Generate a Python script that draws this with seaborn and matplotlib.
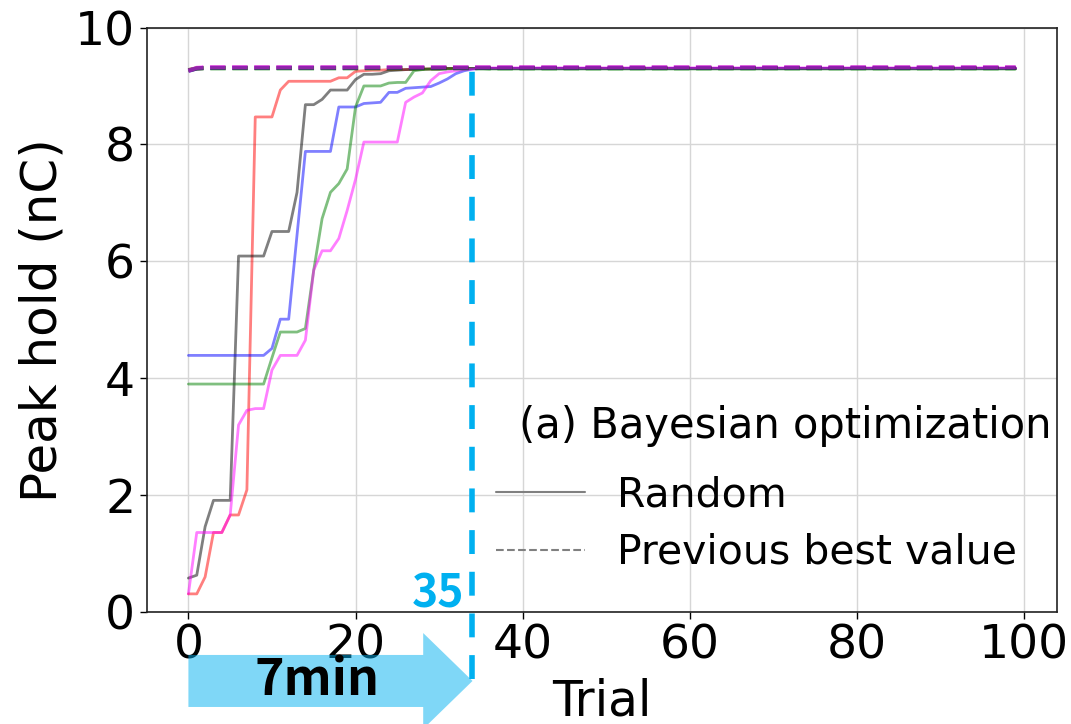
import numpy as np
import pandas as pd
import seaborn as sns
import matplotlib
matplotlib.use("Agg")
import matplotlib.pyplot as plt
from matplotlib.patches import FancyArrow
from matplotlib.lines import Line2D

# ---- data -------------------------------------------------------------
trials = list(range(100))
x_ticks = [0, 20, 40, 60, 80, 100]
y_ticks = [0, 2, 4, 6, 8, 10]

# best-so-far peak hold for five random-start runs (first 36 trials, then flat)
run_red = [0.31, 0.31, 0.60, 1.36, 1.36, 1.66, 1.66, 2.09, 8.47, 8.47,
           8.47, 8.93, 9.08, 9.08, 9.08, 9.08, 9.08, 9.08, 9.14, 9.14,
           9.25, 9.26, 9.27, 9.27, 9.28, 9.28, 9.28, 9.29, 9.29, 9.29,
           9.29, 9.30, 9.30, 9.30, 9.30, 9.30] + [9.30] * 64
run_black = [0.58, 0.63, 1.46, 1.91, 1.91, 1.91, 6.09, 6.09, 6.09, 6.09,
             6.51, 6.51, 6.51, 7.18, 8.68, 8.68, 8.77, 8.93, 8.93, 8.93,
             9.11, 9.20, 9.20, 9.21, 9.26, 9.27, 9.28, 9.28, 9.29, 9.29,
             9.29, 9.30, 9.30, 9.30, 9.30, 9.30] + [9.30] * 64
run_blue = [4.39, 4.39, 4.39, 4.39, 4.39, 4.39, 4.39, 4.39, 4.39, 4.39,
            4.51, 5.01, 5.01, 6.45, 7.88, 7.88, 7.88, 7.88, 8.64, 8.64,
            8.64, 8.70, 8.71, 8.72, 8.89, 8.89, 8.96, 8.97, 8.98, 8.99,
            9.05, 9.12, 9.21, 9.26, 9.29, 9.30] + [9.30] * 64
run_green = [3.90, 3.90, 3.90, 3.90, 3.90, 3.90, 3.90, 3.90, 3.90, 3.90,
             4.35, 4.79, 4.79, 4.79, 4.85, 5.85, 6.73, 7.18, 7.33, 7.58,
             8.64, 9.00, 9.00, 9.00, 9.05, 9.06, 9.06, 9.26, 9.28, 9.29,
             9.29, 9.29, 9.30, 9.30, 9.30, 9.30] + [9.29] * 64
run_magenta = [0.31, 1.36, 1.36, 1.36, 1.36, 1.66, 3.20, 3.45, 3.48, 3.48,
               4.14, 4.39, 4.39, 4.39, 4.65, 5.85, 6.18, 6.18, 6.39, 6.87,
               7.40, 8.04, 8.04, 8.04, 8.04, 8.04, 8.72, 8.81, 8.88, 9.09,
               9.21, 9.24, 9.26, 9.28, 9.29, 9.30] + [9.31] * 64

# previous best value for each run
best_red = [9.27, 9.30, 9.31] + [9.31] * 97
best_black = [9.26, 9.30, 9.31] + [9.31] * 97
best_blue = [9.26, 9.30, 9.31] + [9.31] * 97
best_green = [9.27, 9.30, 9.30] + [9.30] * 97
best_magenta = [9.26, 9.31, 9.32] + [9.32] * 97

run_names = ["r1", "r2", "r3", "r4", "r5"]
run_colors = ["red", "black", "blue", "green", "magenta"]

# ---- long-form tables ---------------------------------------------------
solid_runs = [run_red, run_black, run_blue, run_green, run_magenta]
best_runs = [best_red, best_black, best_blue, best_green, best_magenta]

df_solid = pd.concat(
    [pd.DataFrame({"trial": trials, "peak": v, "run": n})
     for n, v in zip(run_names, solid_runs)], ignore_index=True)
df_best = pd.concat(
    [pd.DataFrame({"trial": trials, "peak": v, "run": n})
     for n, v in zip(run_names, best_runs)], ignore_index=True)
palette = dict(zip(run_names, run_colors))

# ---- figure -------------------------------------------------------------
sns.set_theme(style="ticks")
plt.rcParams["font.family"] = ["DejaVu Sans"]
plt.rcParams.update({"text.color": "black", "axes.labelcolor": "black",
                     "xtick.color": "black", "ytick.color": "black"})

fig, ax = plt.subplots(figsize=(10.71, 7.24), dpi=100)
fig.subplots_adjust(left=0.1373, right=0.9869, bottom=0.1547, top=0.962)

ax.grid(True, color="#d6d6d6", linewidth=1.0, zorder=0)
ax.set_axisbelow(True)

sns.lineplot(data=df_solid, x="trial", y="peak", hue="run", palette=palette,
             hue_order=run_names, estimator=None, alpha=0.5, linewidth=2,
             legend=False, ax=ax)
sns.lineplot(data=df_best, x="trial", y="peak", hue="run", palette=palette,
             hue_order=run_names, estimator=None, alpha=0.5, linewidth=3,
             linestyle="--", legend=False, ax=ax)

# marker for the trial where all runs converge
ax.plot([34, 34], [-1.15, 9.30], color="#00b0f0", linewidth=4,
        dashes=(4.3, 3.2), clip_on=False, zorder=5)
ax.text(33.0, 0.07, "35", color="#00b0f0", fontsize=32, fontweight="bold",
        family=["Noto Sans CJK JP", "DejaVu Sans"], ha="right",
        va="baseline", zorder=6)

arrow = FancyArrow(0, -1.18, 34, 0, width=0.89, head_width=1.64,
                   head_length=5.9, length_includes_head=True,
                   color="#00b0f0", alpha=0.5, linewidth=0,
                   clip_on=False, zorder=6)
ax.add_patch(arrow)
ax.text(15.4, -1.18, "7min", color="black", fontsize=36, fontweight="bold",
        family=["Noto Sans CJK JP", "DejaVu Sans"], ha="center",
        va="center", zorder=7, clip_on=False)

ax.set_xlim(-4.95, 103.95)
ax.set_ylim(0, 10)
ax.set_xticks(x_ticks)
ax.set_yticks(y_ticks)
ax.tick_params(labelsize=34, length=5, width=1, color="black")
for s in ax.spines.values():
    s.set_color("#222222")
    s.set_linewidth(1.2)

ax.set_xlabel("Trial", fontsize=35, labelpad=6)
ax.set_ylabel("Peak hold (nC)", fontsize=36, labelpad=6)

# legend heading and entries
ax.text(71.4, 3.18, "(a) Bayesian optimization", fontsize=30,
        ha="center", va="center")
handles = [Line2D([], [], color="gray", linewidth=1.5),
           Line2D([], [], color="gray", linewidth=1.5, linestyle="--")]
ax.legend(handles, ["Random", "Previous best value"], fontsize=29.5,
          frameon=False, loc="center left", bbox_to_anchor=(0.366, 0.150),
          borderaxespad=0, handlelength=2.15, handletextpad=0.8,
          labelspacing=0.42)

fig.savefig("out.png", dpi=100)
